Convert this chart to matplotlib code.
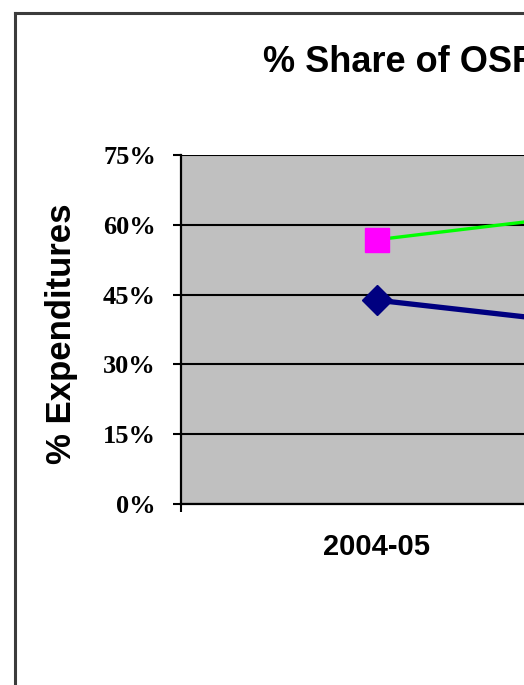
"""
% Share of OSR chart (cropped Excel-style line chart).
"""

import matplotlib
matplotlib.use("Agg")
import matplotlib.pyplot as plt
from matplotlib.lines import Line2D
from matplotlib.ticker import FixedLocator, FuncFormatter

# Data
years = ["2004-05", "2005-06"]
osr_share = [0.568, 0.669]      # magenta squares / green line
other_share = [0.438, 0.343]    # navy diamonds / navy line
y_ticks = [0.0, 0.15, 0.30, 0.45, 0.60, 0.75]

W, H = 524, 685
fig = plt.figure(figsize=(W / 100, H / 100), dpi=100)
fig.patch.set_facecolor("white")

# plot area in pixels: left 181, top 155, bottom 504; one category = 392 px
left, top, bottom = 181, 155, 504
cat_w = 392
ax = fig.add_axes([left / W, (H - bottom) / H, cat_w * len(years) / W, (bottom - top) / H])
ax.set_facecolor("#C0C0C0")

x = list(range(len(years)))
ax.plot(x, osr_share, color="#00FF00", lw=2.4, marker="s", ms=17,
        mfc="#FF00FF", mec="#FF00FF", zorder=4, clip_on=False)
ax.plot(x, other_share, color="#000080", lw=3.8, marker="D", ms=15,
        mfc="#000080", mec="#000080", zorder=5, clip_on=False)

ax.set_xlim(-0.5, len(years) - 0.5)
ax.set_ylim(0, 0.75)

ax.yaxis.set_major_locator(FixedLocator(y_ticks))
ax.yaxis.set_major_formatter(FuncFormatter(lambda v, p: f"{v * 100:.0f}%"))
ax.grid(axis="y", color="black", lw=1.5, zorder=1)
ax.set_axisbelow(True)

ax.set_xticks(x)
ax.set_xticklabels(years, fontsize=21, fontweight="bold", family="Liberation Sans")
ax.set_xticks([i - 0.5 for i in range(len(years) + 1)], minor=True)
ax.tick_params(axis="x", which="major", length=0, pad=21)
ax.tick_params(axis="x", which="minor", length=6, width=1.5, direction="out")
ax.tick_params(axis="y", length=6, width=1.5, direction="out", pad=12)
for lab in ax.get_yticklabels():
    lab.set_fontsize(19)
    lab.set_fontweight("bold")
    lab.set_family("Liberation Serif")

for side in ("top", "right"):
    ax.spines[side].set_visible(False)
for side in ("left", "bottom"):
    ax.spines[side].set_linewidth(1.6)
    ax.spines[side].set_color("black")

# y label and title placed in figure pixels
fig.text(61 / W, (H - 334) / H, "% Expenditures", rotation=90, ha="center", va="center",
         fontsize=25, fontweight="bold", family="Liberation Sans")
fig.text(263 / W, (H - 72) / H, "% Share of OSR", ha="left", va="baseline",
         fontsize=26, fontweight="bold", family="Liberation Sans")

# chart border (continues beyond the crop)
border = dict(color="#3C3C3C", lw=2.2, transform=fig.transFigure)
fig.add_artist(Line2D([15 / W, 15 / W], [0, (H - 13) / H], **border))
fig.add_artist(Line2D([15 / W, 1], [(H - 13) / H, (H - 13) / H], **border))

fig.savefig("out.png", dpi=100)
